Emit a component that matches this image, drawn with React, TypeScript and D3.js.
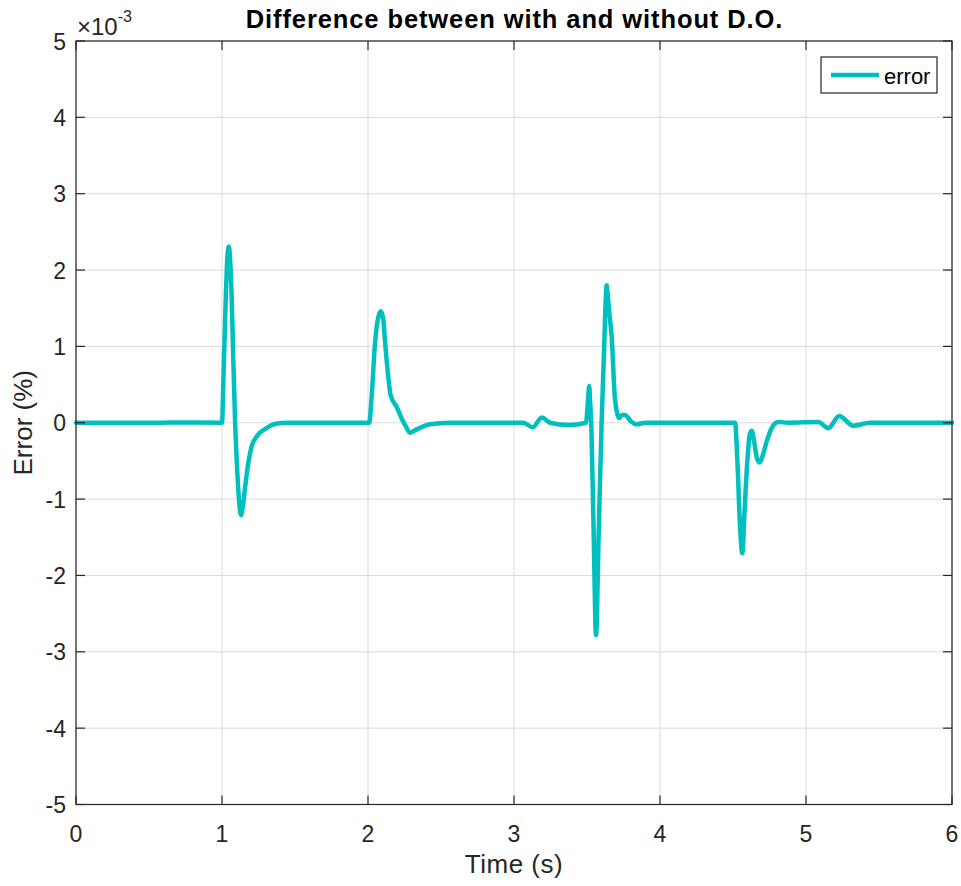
import React from "react";
import * as d3 from "d3";

const timeS: number[] = [
  0, 0.6, 0.65, 1.0, 1.01, 1.026, 1.038, 1.047, 1.055, 1.066, 1.078, 1.09, 1.105, 1.118, 1.13, 1.143, 1.158,
  1.18, 1.203, 1.237, 1.305, 1.375, 1.45,
  2.0, 2.008, 2.025, 2.048, 2.07, 2.088, 2.105, 2.116, 2.139, 2.155, 2.196, 2.23, 2.26, 2.288, 2.33, 2.425, 2.56,
  3.064, 3.128, 3.19, 3.247, 3.372, 3.493, 3.507, 3.515, 3.522, 3.529, 3.545, 3.562, 3.58, 3.6, 3.617, 3.628,
  3.635, 3.643, 3.655, 3.669, 3.692, 3.721, 3.74, 3.76, 3.8, 3.84, 3.9,
  4.514, 4.53, 4.548, 4.564, 4.578, 4.6, 4.615, 4.628, 4.645, 4.665, 4.685, 4.705, 4.73, 4.765, 4.81, 4.88,
  5.084, 5.153, 5.228, 5.324, 5.438, 6,
];
const errorVals: number[] = [
  0, 0, 0.004, 0, 0.6, 1.65, 2.2, 2.31, 2.15, 1.65, 0.78, 0, -0.65, -1.05, -1.21, -1.1, -0.85,
  -0.53, -0.31, -0.18, -0.07, -0.01, 0,
  0, 0, 0.34, 1.04, 1.38, 1.46, 1.35, 1.08, 0.6, 0.36, 0.21, 0.06, -0.05, -0.13, -0.09, -0.02, 0,
  0, -0.06, 0.07, 0.0, -0.03, 0, 0.3, 0.48, 0.25, 0, -1.39, -2.78, -1.45, 0, 0.95, 1.6,
  1.8, 1.65, 1.4, 1.13, 0.3, 0.06, 0.1, 0.1, 0.02, -0.02, 0,
  0, -0.5, -1.35, -1.71, -1.2, -0.45, -0.15, -0.105, -0.25, -0.47, -0.52, -0.42, -0.25, -0.07, 0.01, 0,
  0.01, -0.07, 0.09, -0.04, 0, 0,
];
const xTicks: number[] = [0, 1, 2, 3, 4, 5, 6];
const yTicks: number[] = [-5, -4, -3, -2, -1, 0, 1, 2, 3, 4, 5];

const W = 961;
const H = 886;
const L = 76, R = 952, T = 41, B = 804.5;
const FONT = "'Liberation Sans', Arial, Helvetica, sans-serif";
const AX = "#262626";
const LINE = "#00BFBF";

export default function App() {
  const x = d3.scaleLinear().domain([0, 6]).range([L, R]);
  const y = d3.scaleLinear().domain([-5, 5]).range([B, T]);
  const pts = timeS.map((t, i) => [t, errorVals[i] ?? 0] as [number, number]);
  const line = d3
    .line<[number, number]>()
    .x((d) => x(d[0]))
    .y((d) => y(d[1]))
    .curve(d3.curveMonotoneX);
  const tl = 9;
  return (
    <svg
      width={W}
      height={H}
      style={{ position: "absolute", left: 0, top: 0, background: "#fff" }}
      fontFamily={FONT}
    >
      <rect x={0} y={0} width={W} height={H} fill="#fff" />
      {/* grid */}
      {xTicks.map((t) => (
        <line key={"gx" + t} x1={x(t)} x2={x(t)} y1={T} y2={B} stroke="#dadada" strokeWidth={1} />
      ))}
      {yTicks.map((t) => (
        <line key={"gy" + t} x1={L} x2={R} y1={y(t)} y2={y(t)} stroke="#dadada" strokeWidth={1} />
      ))}
      {/* data */}
      <path d={line(pts) || ""} fill="none" stroke={LINE} strokeWidth={4.5} strokeLinejoin="round" strokeLinecap="round" />
      {/* axes box */}
      <rect x={L} y={T} width={R - L} height={B - T} fill="none" stroke={AX} strokeWidth={1.2} />
      {xTicks.map((t) => (
        <g key={"tx" + t}>
          <line x1={x(t)} x2={x(t)} y1={B} y2={B - tl} stroke={AX} strokeWidth={1.2} />
          <line x1={x(t)} x2={x(t)} y1={T} y2={T + tl} stroke={AX} strokeWidth={1.2} />
          <text x={x(t)} y={B + 37} fontSize={23} fill={AX} textAnchor="middle">
            {t}
          </text>
        </g>
      ))}
      {yTicks.map((t) => (
        <g key={"ty" + t}>
          <line x1={L} x2={L + tl} y1={y(t)} y2={y(t)} stroke={AX} strokeWidth={1.2} />
          <line x1={R} x2={R - tl} y1={y(t)} y2={y(t)} stroke={AX} strokeWidth={1.2} />
          <text x={L - 10} y={y(t) + 8.5} fontSize={23} fill={AX} textAnchor="end">
            {t}
          </text>
        </g>
      ))}
      {/* exponent */}
      <text x={77} y={35} fontSize={24} fill={AX}>
        ×10
        <tspan dy={-13} fontSize={16}>-3</tspan>
      </text>
      {/* title */}
      <text x={(L + R) / 2 + 0.5} y={28} fontSize={25.5} fontWeight="bold" fill="#000" textAnchor="middle" letterSpacing={0.9}>
        Difference between with and without D.O.
      </text>
      {/* axis labels */}
      <text x={(L + R) / 2} y={873} fontSize={26} fill={AX} textAnchor="middle" letterSpacing={0.5}>
        Time (s)
      </text>
      <text
        transform={`translate(32, ${(T + B) / 2}) rotate(-90)`}
        fontSize={26}
        fill={AX}
        textAnchor="middle"
      >
        Error (%)
      </text>
      {/* legend */}
      <rect x={821} y={57} width={116} height={36} fill="#fff" stroke={AX} strokeWidth={1.2} />
      <line x1={831} x2={879} y1={75} y2={75} stroke={LINE} strokeWidth={4.5} />
      <text x={884} y={84} fontSize={22} fill="#000">
        error
      </text>
    </svg>
  );
}
